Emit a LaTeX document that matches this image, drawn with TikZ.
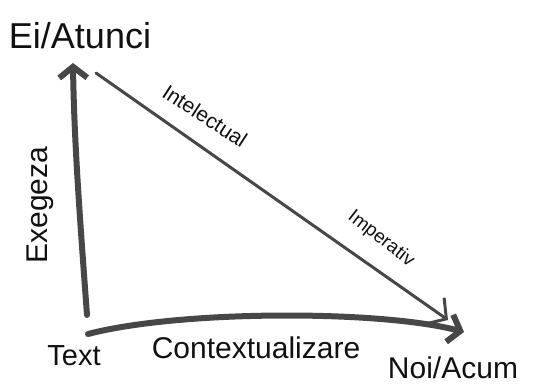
\documentclass[tikz,border=0pt]{standalone}
\usepackage{fontspec}
\setmainfont{Liberation Sans}
\usetikzlibrary{arrows.meta}
\definecolor{ink}{HTML}{474747}
\definecolor{txt}{HTML}{111111}
\tikzset{
  lbl/.style={inner sep=0pt, text=txt},
  thickarrow/.style={draw=ink, line width=6pt, line cap=round, -{Straight Barb[length=11pt,width=28pt]}},
  thinarrow/.style={draw=ink, line width=3pt, line cap=round, -{Straight Barb[length=14pt,width=32pt]}}
}
\begin{document}
\begin{tikzpicture}[x=1pt,y=-1pt]
\useasboundingbox (0,0) rectangle (540,388);
% labels
\node[lbl, font=\fontsize{36}{40}\selectfont] (ei) at (80,36) {Ei/Atunci};
\node[lbl, font=\fontsize{30}{34}\selectfont, rotate=90] (exe) at (40,205) {Exegeza};
\node[lbl, font=\fontsize{21}{24}\selectfont, rotate=-33] (int) at (205,116) {Intelectual};
\node[lbl, font=\fontsize{19}{22}\selectfont, rotate=-38] (imp) at (381,239) {Imperativ};
\node[lbl, font=\fontsize{29}{32}\selectfont] (text) at (74,356) {Text};
\node[lbl, font=\fontsize{30}{34}\selectfont] (ctx) at (256,348) {Contextualizare};
\node[lbl, font=\fontsize{30}{34}\selectfont] (noi) at (453,368) {Noi/Acum};
% end points
\coordinate (vbot) at (87,315);
\coordinate (vtop) at (73,63);
\coordinate (dstart) at (96,73);
\coordinate (dend) at (448,320);
\coordinate (hstart) at (88,334);
\coordinate (hend) at (464,332);
% connectors
\draw[thickarrow] (vbot) .. controls (80,220) and (74,140) .. (vtop);
\draw[thinarrow] (dstart) -- (dend);
\draw[thickarrow] (hstart) .. controls (180,310) and (380,310) .. (hend);
\end{tikzpicture}
\end{document}
